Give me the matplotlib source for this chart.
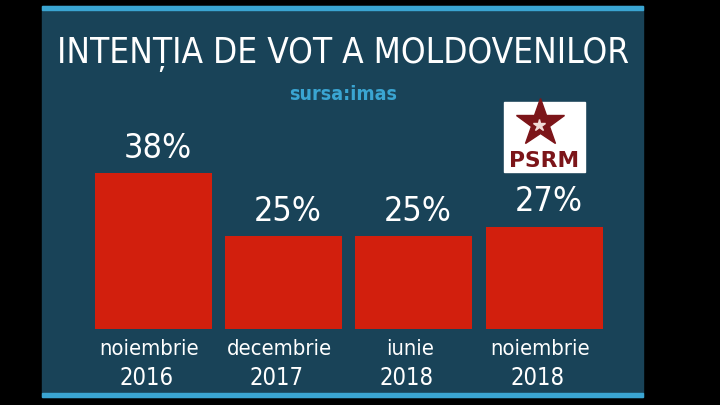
import matplotlib
matplotlib.use("Agg")
import matplotlib.pyplot as plt
from matplotlib.patches import Rectangle

# date (sursa: imas)
luni = ["noiembrie", "decembrie", "iunie", "noiembrie"]
ani = ["2016", "2017", "2018", "2018"]
procente = [38, 25, 25, 27]
titlu = "INTENȚIA DE VOT A MOLDOVENILOR"
sursa = "sursa:imas"

plt.rcParams['font.family'] = ["DejaVu Sans"]
plt.rcParams['font.stretch'] = "condensed"

panou = "#194358"
albastru = "#3aa5d2"
rosu = "#d21f0d"
visiniu = "#7c1519"

fig = plt.figure(figsize=(7.2, 4.05), dpi=100, facecolor="black")
rend = fig.canvas.get_renderer()


def potriveste(t, latime):
    # ajusteaza fontul pana cand textul are latimea din imagine
    w = t.get_window_extent(renderer=rend).width
    t.set_fontsize(t.get_fontsize() * latime / w)
    return t.get_fontsize()


# fundal: panou + liniile albastre (coordonate in pixeli)
bg = fig.add_axes([0, 0, 1, 1])
bg.set_xlim(0, 720)
bg.set_ylim(405, 0)
bg.axis("off")
bg.add_patch(Rectangle((42, 6), 601, 391, color=panou, zorder=0))
bg.add_patch(Rectangle((42, 6), 601, 3.5, color=albastru, zorder=1))
bg.add_patch(Rectangle((42, 393), 601, 4, color=albastru, zorder=1))

t = bg.text(343, 63, titlu, color="white", fontsize=33, ha="center", va="baseline",
            fontweight="light")
potriveste(t, 572)
t = bg.text(343, 100, sursa, color=albastru, fontsize=16, fontweight="bold",
            ha="center", va="baseline")
potriveste(t, 108)

# logo PSRM
bg.add_patch(Rectangle((504, 102), 81, 70, color="white", zorder=2))
bg.plot([540], [123], marker="*", markersize=36, color=visiniu,
        markeredgecolor=visiniu, zorder=3)
bg.plot([539], [125], marker="*", markersize=9, color="#f2dcd8",
        markeredgecolor="#f2dcd8", zorder=4)
t = bg.text(544.5, 167, "PSRM", color=visiniu, fontsize=15, fontweight="bold",
            ha="center", va="baseline", zorder=3, stretch="normal")
potriveste(t, 70)

# bare
ax = fig.add_axes([88.3 / 720, 76 / 405, 521 / 720, 250 / 405])
ax.set_facecolor("none")
x = range(len(procente))
bars = ax.bar(x, procente, width=0.898, color=rosu)
ax.set_xlim(-0.5, 3.5)
ax.set_ylim(6, 57.3)
ax.axis("off")

t = ax.text(0, 0, "38%", fontsize=29)
fs_proc = potriveste(t, 68)
t.remove()
t = ax.text(0, 0, "noiembrie", fontsize=18)
fs_luna = potriveste(t, 100)
t.remove()
t = ax.text(0, 0, "2016", fontsize=22)
fs_an = potriveste(t, 54)
t.remove()

for xi, v in zip(x, procente):
    ax.annotate(f"{v}%", (xi, v), xytext=(3, 6), textcoords="offset points",
                ha="center", va="bottom", color="white", fontsize=fs_proc)

for xi, luna, an in zip(x, luni, ani):
    ax.annotate(luna, (xi, 0), xycoords=("data", "axes fraction"),
                xytext=(-3, -19), textcoords="offset points",
                ha="center", va="baseline", color="white", fontsize=fs_luna)
    ax.annotate(an, (xi, 0), xycoords=("data", "axes fraction"),
                xytext=(-5, -40), textcoords="offset points",
                ha="center", va="baseline", color="white", fontsize=fs_an)

fig.savefig("out.png", dpi=100, facecolor="black")
